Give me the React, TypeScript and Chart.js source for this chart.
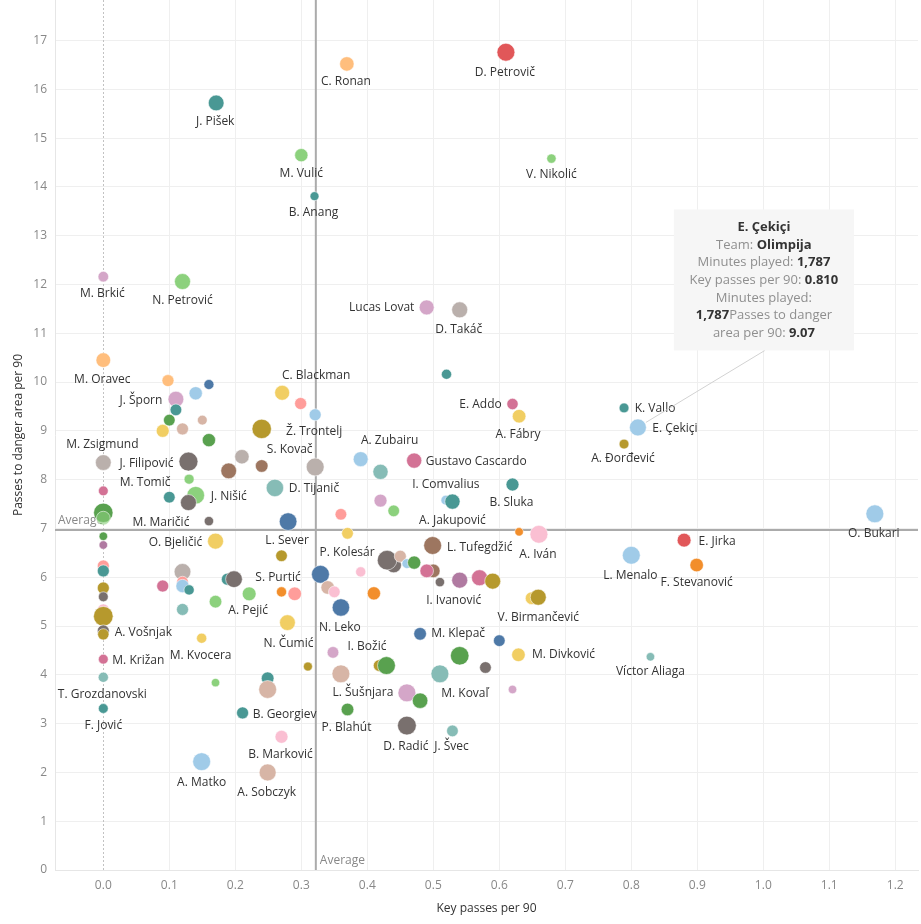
import React, { useEffect, useRef } from 'react';
import { Chart, registerables } from 'chart.js';

Chart.register(...registerables);

const FONT = '"Open Sans", "Noto Sans", sans-serif';

// ---- Data -------------------------------------------------------------
const PLAYER_NAMES: string[] = [
  'D. Petrovič', 'C. Ronan', 'J. Pišek', 'M. Vulić', 'V. Nikolić', 'B. Anang', 'M. Brkić', 'N. Petrović',
  'Lucas Lovat', 'D. Takáč', 'M. Oravec', '', '', 'C. Blackman', '', 'Ž. Trontelj',
  '', 'J. Šporn', '', '', '', '', '', '',
  '', '', 'S. Kovač', '', 'J. Filipović', 'M. Zsigmund', '', 'M. Tomič',
  '', '', 'J. Nišić', '', 'D. Tijanič', '', '', 'M. Maričić',
  'L. Sever', 'A. Zubairu', '', 'Gustavo Cascardo', '', 'E. Addo', 'A. Fábry', 'I. Comvalius',
  'A. Jakupović', 'B. Sluka', '', '', '', '', '', 'A. Iván',
  'K. Vallo', 'E. Çekiçi', 'A. Đorđević', 'O. Bukari', 'E. Jirka', 'L. Menalo', 'F. Stevanović', 'Víctor Aliaga',
  '', '', 'O. Bjeličić', '', '', '', '', '',
  '', '', '', '', '', 'S. Purtić', 'A. Pejić', '',
  '', '', '', '', 'A. Vošnjak', 'M. Kvocera', 'M. Križan', 'T. Grozdanovski',
  'F. Jović', '', '', '', '', 'N. Čumić', '', '',
  '', 'B. Georgiev', 'B. Marković', 'A. Matko', 'A. Sobczyk', '', '', '',
  '', '', 'N. Leko', '', 'P. Kolesár', '', '', '',
  'L. Tufegdžić', '', '', '', 'I. Ivanović', '', '', '',
  'V. Birmančević', 'M. Klepač', '', 'M. Divković', '', '', 'M. Kovaľ', '',
  'I. Božić', '', '', '', 'L. Šušnjara', '', 'P. Blahút', 'D. Radić',
  'J. Švec',
];

const KEY_PASSES_P90: number[] = [
  0.610, 0.369, 0.171, 0.300, 0.679, 0.320, 0.000, 0.120,
  0.490, 0.540, 0.000, 0.098, 0.160, 0.271, 0.299, 0.321,
  0.140, 0.110, 0.110, 0.100, 0.150, 0.090, 0.120, 0.160,
  0.240, 0.210, 0.240, 0.321, 0.129, 0.000, 0.190, 0.130,
  0.000, 0.100, 0.140, 0.129, 0.260, 0.000, 0.000, 0.160,
  0.280, 0.390, 0.420, 0.471, 0.520, 0.620, 0.630, 0.519,
  0.529, 0.620, 0.420, 0.440, 0.360, 0.370, 0.630, 0.660,
  0.789, 0.810, 0.789, 1.169, 0.880, 0.800, 0.899, 0.829,
  0.000, 0.000, 0.170, 0.000, 0.000, 0.120, 0.000, 0.000,
  0.090, 0.120, 0.120, 0.130, 0.188, 0.198, 0.221, 0.170,
  0.120, 0.000, 0.000, 0.000, 0.000, 0.149, 0.000, 0.000,
  0.000, 0.170, 0.270, 0.270, 0.290, 0.279, 0.310, 0.249,
  0.249, 0.211, 0.270, 0.149, 0.249, 0.329, 0.340, 0.350,
  0.390, 0.410, 0.360, 0.440, 0.430, 0.450, 0.460, 0.471,
  0.499, 0.500, 0.490, 0.510, 0.540, 0.570, 0.590, 0.649,
  0.659, 0.480, 0.600, 0.629, 0.540, 0.579, 0.510, 0.620,
  0.348, 0.418, 0.429, 0.360, 0.460, 0.480, 0.370, 0.460,
  0.529,
];

const DANGER_PASSES_P90: number[] = [
  16.76, 16.52, 15.72, 14.65, 14.58, 13.81, 12.16, 12.06,
  11.53, 11.48, 10.45, 10.03, 9.95, 9.78, 9.56, 9.33,
  9.77, 9.65, 9.43, 9.22, 9.22, 9.00, 9.04, 8.81,
  9.04, 8.47, 8.28, 8.26, 8.37, 8.35, 8.18, 8.01,
  7.77, 7.64, 7.68, 7.53, 7.83, 7.32, 7.21, 7.15,
  7.14, 8.42, 8.16, 8.39, 10.16, 9.55, 9.30, 7.58,
  7.55, 7.90, 7.57, 7.36, 7.29, 6.90, 6.93, 6.88,
  9.47, 9.07, 8.73, 7.30, 6.76, 6.45, 6.25, 4.37,
  6.84, 6.66, 6.74, 6.23, 6.13, 6.11, 5.78, 5.60,
  5.82, 5.90, 5.82, 5.74, 5.96, 5.96, 5.66, 5.50,
  5.34, 5.33, 5.20, 4.90, 4.83, 4.75, 4.32, 3.95,
  3.31, 3.84, 6.44, 5.70, 5.66, 5.07, 4.17, 3.93,
  3.70, 3.22, 2.73, 2.22, 2.00, 6.06, 5.79, 5.70,
  6.11, 5.67, 5.38, 6.25, 6.35, 6.43, 6.28, 6.30,
  6.65, 6.13, 6.13, 5.90, 5.94, 5.99, 5.92, 5.57,
  5.59, 4.84, 4.70, 4.41, 4.39, 4.15, 4.02, 3.70,
  4.46, 4.19, 4.19, 4.02, 3.63, 3.47, 3.29, 2.96,
  2.85,
];

const MINUTES_PLAYED: number[] = [
  2000, 1300, 1550, 1100, 550, 500, 700, 1600,
  1400, 1600, 1350, 900, 625, 1400, 900, 900,
  1100, 1550, 850, 850, 600, 1050, 900, 1100,
  2350, 1300, 1000, 2000, 2250, 1550, 1550, 625,
  600, 850, 1950, 1600, 1900, 2350, 1200, 550,
  1950, 1400, 1450, 1450, 650, 800, 1150, 600,
  1450, 1050, 1050, 850, 850, 850, 450, 2000,
  600, 1787, 600, 2000, 1200, 2000, 1150, 450,
  450, 450, 1600, 900, 900, 1750, 900, 600,
  900, 850, 1100, 650, 900, 1750, 1200, 1000,
  900, 900, 2400, 900, 800, 650, 600, 650,
  600, 450, 850, 650, 1150, 1550, 500, 1000,
  2000, 900, 1050, 2000, 1800, 2000, 1150, 850,
  650, 1100, 1900, 1500, 2400, 900, 600, 1100,
  2000, 1150, 1150, 550, 1600, 1600, 1600, 1000,
  1600, 1000, 850, 1150, 2150, 850, 2000, 450,
  850, 850, 2000, 2000, 2000, 1500, 1000, 2200,
  850,
];

const TEAM_COLOR_KEY: string[] = [
  'red', 'lorange', 'teal', 'lgreen', 'lgreen', 'teal', 'lpurple', 'lgreen',
  'lpurple', 'lgray', 'lorange', 'lorange', 'dblue', 'yellow', 'lred', 'lblue',
  'lblue', 'lpurple', 'teal', 'green', 'lbrown', 'yellow', 'lbrown', 'green',
  'gold', 'lgray', 'brown', 'lgray', 'gray', 'lgray', 'brown', 'lgreen',
  'pink', 'teal', 'lgreen', 'gray', 'lteal', 'green', 'lgreenA', 'gray',
  'dblue', 'lblue', 'lteal', 'pink', 'teal', 'pink', 'yellow', 'lblue',
  'teal', 'teal', 'lpurple', 'lgreen', 'lred', 'yellow', 'orange', 'lpink',
  'teal', 'lblue', 'gold', 'lblue', 'red', 'lblue', 'orange', 'lteal',
  'green', 'purple', 'yellow', 'lred', 'teal', 'lgray', 'gold', 'gray',
  'pink', 'lred', 'lblue', 'teal', 'teal', 'gray', 'lgreen', 'lgreen',
  'lteal', 'lpink', 'gold', 'gray', 'gold', 'yellow', 'pink', 'lteal',
  'teal', 'lgreen', 'gold', 'orange', 'lred', 'yellow', 'gold', 'teal',
  'lbrown', 'teal', 'lpink', 'lblue', 'lbrown', 'dblue', 'lbrown', 'lpink',
  'lpink', 'orange', 'dblue', 'gray', 'gray', 'lbrown', 'lblue', 'green',
  'brown', 'brown', 'pink', 'gray', 'purple', 'pink', 'gold', 'yellow',
  'gold', 'dblue', 'dblue', 'yellow', 'green', 'gray', 'lteal', 'lpurple',
  'lpurple', 'gold', 'green', 'lbrown', 'lpurple', 'green', 'green', 'gray',
  'lteal',
];

const X_TICKS: number[] = [0, 0.1, 0.2, 0.3, 0.4, 0.5, 0.6, 0.7, 0.8, 0.9, 1.0, 1.1, 1.2];
const Y_TICKS: number[] = [0, 1, 2, 3, 4, 5, 6, 7, 8, 9, 10, 11, 12, 13, 14, 15, 16, 17];

const AVG_KEY_PASSES = 0.322;
const AVG_DANGER_PASSES = 6.97;

const TOOLTIP_PLAYER = 'E. Çekiçi';
const TOOLTIP_TEAM = 'Olimpija';

// ---- Styling ----------------------------------------------------------
const PALETTE: Record<string, string> = {
  red: '#e15759', lorange: '#ffbe7d', teal: '#499894', lgreen: '#8cd17d', lgreenA: 'rgba(140,209,125,0.6)',
  lpurple: '#d4a6c8', lgray: '#bab0ac', dblue: '#4e79a7', yellow: '#f1ce63', lred: '#ff9d9a',
  lblue: '#a0cbe8', green: '#59a14f', lbrown: '#d7b5a6', gold: '#b6992d', brown: '#9d7660',
  gray: '#79706e', pink: '#d37295', lteal: '#86bcb6', orange: '#f28e2b', lpink: '#fabfd2',
  purple: '#b07aa1',
};

// label text centre relative to the mark centre (px)
const LABEL_OFFSET: Record<string, [number, number]> = {
  'D. Petrovič': [-1, 20], 'C. Ronan': [-1, 18], 'J. Pišek': [-1, 19], 'M. Vulić': [0, 18],
  'V. Nikolić': [0, 16], 'B. Anang': [-1, 16], 'M. Brkić': [-1, 17], 'N. Petrović': [0, 19],
  'Lucas Lovat': [-45, 0], 'D. Takáč': [-1, 20], 'M. Oravec': [-1, 19], 'C. Blackman': [34, -17],
  'Ž. Trontelj': [-1, 17], 'J. Šporn': [-35, 1], 'S. Kovač': [28, -16], 'J. Filipović': [-42, 2],
  'M. Zsigmund': [-1, -18], 'M. Tomič': [-44, 3], 'J. Nišić': [33, 1], 'D. Tijanič': [39, 1],
  'M. Maričić': [-48, 1], 'L. Sever': [-1, 19], 'A. Zubairu': [29, -19], 'Gustavo Cascardo': [62, 1],
  'E. Addo': [-32, 1], 'A. Fábry': [-1, 18], 'I. Comvalius': [0, -16], 'A. Jakupović': [0, 19],
  'B. Sluka': [-1, 18], 'A. Iván': [-1, 20], 'K. Vallo': [31, 1], 'E. Çekiçi': [37, 1],
  'A. Đorđević': [-1, 15], 'O. Bukari': [-1, 20], 'E. Jirka': [33, 1], 'L. Menalo': [-1, 20],
  'F. Stevanović': [0, 18], 'Víctor Aliaga': [0, 15], 'O. Bjeličić': [-40, 1], 'S. Purtić': [44, -2],
  'A. Pejić': [-1, 17], 'A. Vošnjak': [40, -2], 'M. Kvocera': [-1, 17], 'M. Križan': [35, 1],
  'T. Grozdanovski': [-1, 17], 'F. Jović': [0, 17], 'N. Čumić': [1, 21], 'B. Georgiev': [42, 2],
  'B. Marković': [-1, 18], 'A. Matko': [0, 21], 'A. Sobczyk': [-1, 20], 'N. Leko': [-1, 20],
  'P. Kolesár': [-40, -8], 'L. Tufegdžić': [47, 2], 'I. Ivanović': [-6, 20], 'V. Birmančević': [0, 20],
  'M. Klepač': [38, 0], 'M. Divković': [45, 0], 'M. Kovaľ': [25, 20], 'I. Božić': [34, -6],
  'L. Šušnjara': [-44, 0], 'P. Blahút': [-1, 18], 'D. Radić': [-1, 21], 'J. Švec': [-1, 16],
};

const GRID = '#efefef';
const radiusFor = (m: number) => 0.2 * Math.sqrt(m);

const fmtThousands = (n: number) => n.toLocaleString('en-US');

const zeroPadding = (s: any) => {
  s.paddingTop = 0;
  s.paddingBottom = 0;
  s.paddingLeft = 0;
  s.paddingRight = 0;
};

const overlayPlugin = {
  id: 'overlay',
  beforeDatasetsDraw(chart: any) {
    const { ctx, chartArea: a, scales } = chart;
    const x = scales.x, y = scales.y;
    ctx.save();
    // zero line (dotted)
    const x0 = Math.round(x.getPixelForValue(0)) + 0.5;
    ctx.strokeStyle = '#c2c2c2';
    ctx.lineWidth = 1;
    ctx.setLineDash([2, 2]);
    ctx.beginPath();
    ctx.moveTo(x0, a.top);
    ctx.lineTo(x0, a.bottom);
    ctx.stroke();
    ctx.setLineDash([]);
    // average reference lines
    const ax = x.getPixelForValue(AVG_KEY_PASSES);
    const ay = y.getPixelForValue(AVG_DANGER_PASSES);
    ctx.strokeStyle = '#ababab';
    ctx.lineWidth = 2;
    ctx.beginPath();
    ctx.moveTo(ax, a.top);
    ctx.lineTo(ax, a.bottom);
    ctx.moveTo(a.left, ay);
    ctx.lineTo(a.right, ay);
    ctx.stroke();
    ctx.fillStyle = '#888888';
    ctx.font = `12px ${FONT}`;
    ctx.textAlign = 'left';
    ctx.textBaseline = 'middle';
    ctx.fillText('Average', a.left + 3, ay - 9);
    ctx.fillText('Average', ax + 4, a.bottom - 9);
    ctx.restore();
  },
  afterDatasetsDraw(chart: any) {
    const { ctx } = chart;
    const meta = chart.getDatasetMeta(0);
    ctx.save();
    ctx.font = `12px ${FONT}`;
    ctx.fillStyle = '#333333';
    ctx.textAlign = 'center';
    ctx.textBaseline = 'middle';
    PLAYER_NAMES.forEach((name, i) => {
      if (!name) return;
      const el = meta.data[i];
      const off = LABEL_OFFSET[name] || [0, 18];
      ctx.fillText(name, el.x + off[0], el.y + off[1]);
    });

    // tooltip annotation
    const ti = PLAYER_NAMES.indexOf(TOOLTIP_PLAYER);
    if (ti >= 0) {
      const el = meta.data[ti];
      const px = el.x, py = el.y;
      const bw = 180, bh = 141;
      const bx = px + 36, by = py - 218;
      ctx.strokeStyle = '#d2d2d2';
      ctx.lineWidth = 1;
      ctx.beginPath();
      ctx.moveTo(px + 127, by + bh);
      ctx.lineTo(px + 8, py - 5);
      ctx.stroke();
      ctx.fillStyle = '#f6f6f6';
      ctx.fillRect(bx, by, bw, bh);
      const mins = fmtThousands(MINUTES_PLAYED[ti]);
      const lines: [string, string][][] = [
        [[TOOLTIP_PLAYER, 't']],
        [['Team: ', 'n'], [TOOLTIP_TEAM, 'b']],
        [['Minutes played: ', 'n'], [mins, 'b']],
        [['Key passes per 90: ', 'n'], [KEY_PASSES_P90[ti].toFixed(3), 'b']],
        [['Minutes played:', 'n']],
        [[mins, 'b'], ['Passes to danger', 'n']],
        [['area per 90: ', 'n'], [DANGER_PASSES_P90[ti].toFixed(2), 'b']],
      ];
      const fontFor = (k: string) => (k === 'n' ? `13px ${FONT}` : `bold 13px ${FONT}`);
      ctx.textAlign = 'left';
      ctx.textBaseline = 'middle';
      lines.forEach((segs, li) => {
        let total = 0;
        segs.forEach(([t, k]) => { ctx.font = fontFor(k); total += ctx.measureText(t).width; });
        let cx = bx + bw / 2 - total / 2;
        const cy = by + 17.7 + li * 17.7;
        segs.forEach(([t, k]) => {
          ctx.font = fontFor(k);
          ctx.fillStyle = k === 'n' ? '#8f8f8f' : '#333333';
          ctx.fillText(t, cx, cy);
          cx += ctx.measureText(t).width;
        });
      });
    }
    ctx.restore();
  },
};

export default function App() {
  const canvasRef = useRef<HTMLCanvasElement | null>(null);

  useEffect(() => {
    const canvas = canvasRef.current;
    if (!canvas) return;
    const points = KEY_PASSES_P90.map((v, i) => ({ x: v, y: DANGER_PASSES_P90[i] }));
    const colors = TEAM_COLOR_KEY.map((k) => PALETTE[k]);
    const radii = MINUTES_PLAYED.map(radiusFor);

    const chart = new Chart(canvas, {
      type: 'scatter',
      data: {
        datasets: [
          {
            data: points,
            backgroundColor: colors,
            pointRadius: radii,
            pointHoverRadius: radii,
            borderColor: 'rgba(255,255,255,0.55)',
            borderWidth: 1,
            clip: false,
          },
        ],
      },
      options: {
        animation: false,
        responsive: false,
        maintainAspectRatio: false,
        devicePixelRatio: 1,
        events: [],
        layout: { autoPadding: false, padding: { top: 0, right: 3, bottom: 0, left: 0 } },
        plugins: { legend: { display: false }, tooltip: { enabled: false } },
        scales: {
          x: {
            type: 'linear',
            min: -0.0732,
            max: 1.2344,
            afterBuildTicks: (axis: any) => {
              axis.ticks = X_TICKS.map((value) => ({ value }));
            },
            afterFit: (s: any) => {
              s.height = 54;
              zeroPadding(s);
            },
            ticks: {
              callback: (v: any) => Number(v).toFixed(1),
              color: '#888888',
              font: { family: FONT, size: 12 },
              padding: 8,
              maxRotation: 0,
              autoSkip: false,
            },
            grid: {
              color: (c: any) => (c.tick && c.tick.value === 0 ? 'rgba(0,0,0,0)' : GRID),
              drawTicks: false,
            },
            border: { display: true, color: '#e6e6e6' },
            title: {
              display: true,
              text: 'Key passes per 90',
              color: '#333333',
              font: { family: FONT, size: 12 },
              padding: { top: 0, bottom: 8 },
            },
          },
          y: {
            type: 'linear',
            min: 0,
            max: 17.83,
            afterBuildTicks: (axis: any) => {
              axis.ticks = Y_TICKS.map((value) => ({ value }));
            },
            afterFit: (s: any) => {
              s.width = 55;
              zeroPadding(s);
            },
            ticks: {
              callback: (v: any) => String(v),
              color: '#888888',
              font: { family: FONT, size: 12 },
              padding: 8,
              autoSkip: false,
            },
            grid: { color: GRID, drawTicks: false },
            border: { display: true, color: '#e6e6e6' },
            title: {
              display: true,
              text: 'Passes to danger area per 90',
              color: '#333333',
              font: { family: FONT, size: 12 },
              padding: { top: 11, bottom: 0 },
            },
          },
        },
      },
      plugins: [overlayPlugin],
    } as any);

    return () => chart.destroy();
  }, []);

  return (
    <div style={{ position: 'fixed', left: 0, top: 0, width: 921, height: 924, background: '#ffffff' }}>
      <canvas ref={canvasRef} width={921} height={924} style={{ width: 921, height: 924, display: 'block' }} />
    </div>
  );
}
